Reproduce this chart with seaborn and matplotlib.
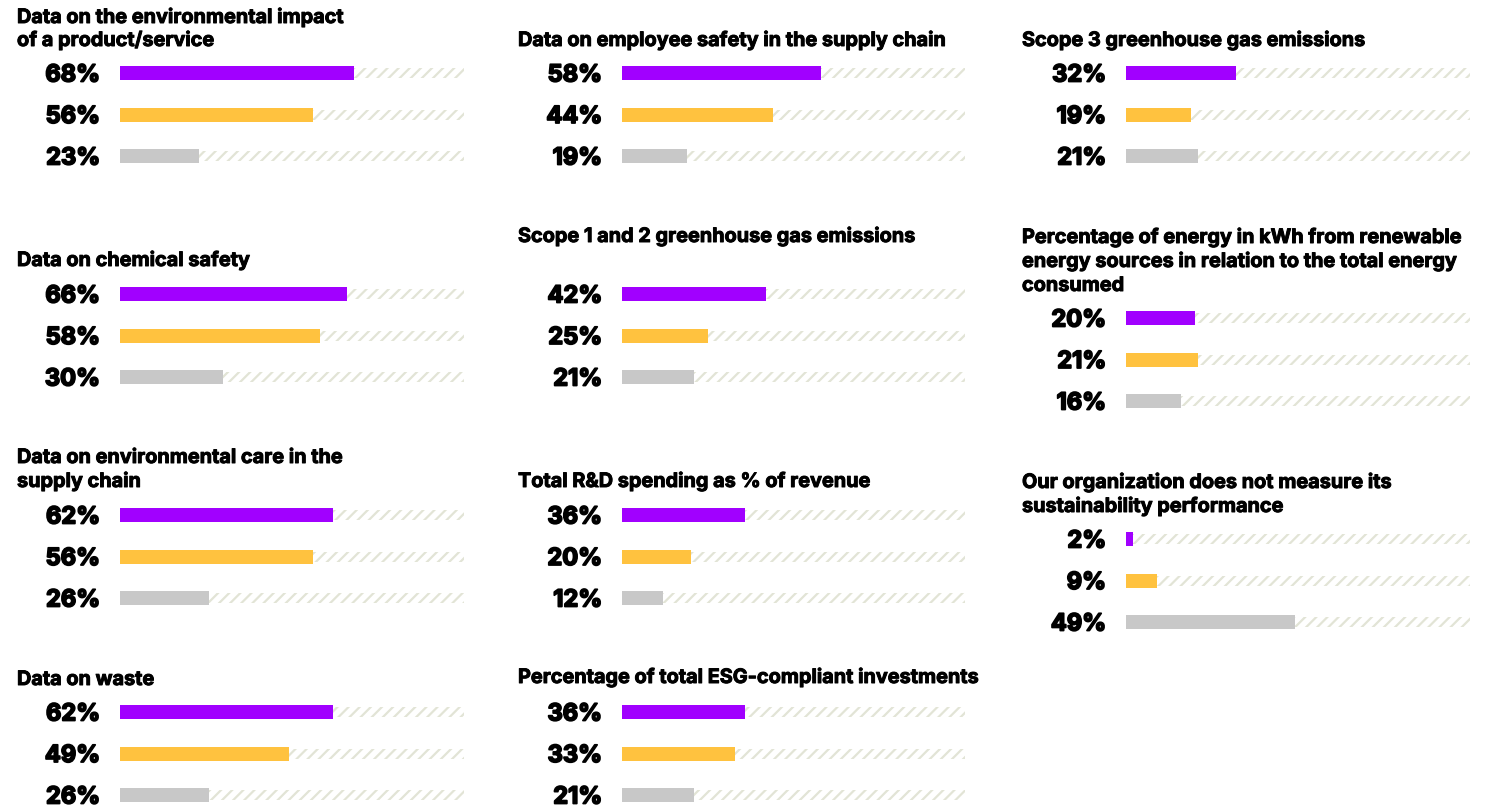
import matplotlib
matplotlib.use("Agg")
import matplotlib.pyplot as plt
import matplotlib.patheffects as pe
import seaborn as sns
import pandas as pd

sns.set_theme(style="white")
plt.rcParams['font.family'] = ['Inter', 'DejaVu Sans']
plt.rcParams['hatch.linewidth'] = 1.6

W, H = 1497, 808

# ---- data ----
groups = ["A", "B", "C"]
colors = ["#A100FF", "#FFC23F", "#C8C8C8"]

titles_c1 = [
    ["Data on the environmental impact", "of a product/service"],
    ["Data on chemical safety"],
    ["Data on environmental care in the", "supply chain"],
    ["Data on waste"],
]
values_c1 = [[68, 56, 23], [66, 58, 30], [62, 56, 26], [62, 49, 26]]

titles_c2 = [
    ["Data on employee safety in the supply chain"],
    ["Scope 1 and 2 greenhouse gas emissions"],
    ["Total R&D spending as % of revenue"],
    ["Percentage of total ESG-compliant investments"],
]
values_c2 = [[58, 44, 19], [42, 25, 21], [36, 20, 12], [36, 33, 21]]

titles_c3 = [
    ["Scope 3 greenhouse gas emissions"],
    ["Percentage of energy in kWh from renewable",
     "energy sources in relation to the total energy", "consumed"],
    ["Our organization does not measure its", "sustainability performance"],
]
values_c3 = [[32, 19, 21], [20, 21, 16], [2, 9, 49]]

# ---- layout (pixels) ----
columns = [
    dict(titles=titles_c1, values=values_c1, title_x=17, label_x=100, x0=120, x1=464,
         title_base=[[23, 46], [266], [463, 487], [685]],
         first_bar=[73, 294, 515, 712]),
    dict(titles=titles_c2, values=values_c2, title_x=518, label_x=602, x0=622, x1=965,
         title_base=[[46], [242], [487], [683]],
         first_bar=[73, 294, 515, 712]),
    dict(titles=titles_c3, values=values_c3, title_x=1022, label_x=1106, x0=1126, x1=1470,
         title_base=[[46], [243, 267, 291], [488, 512]],
         first_bar=[73, 318, 539]),
]
SP = 41.5  # row spacing in px

fig = plt.figure(figsize=(W / 100, H / 100), dpi=100)
fig.patch.set_facecolor("white")

num_fx = [pe.withStroke(linewidth=1.3, foreground="black")]
ttl_fx = [pe.withStroke(linewidth=0.7, foreground="black")]

for col in columns:
    for i, vals in enumerate(col["values"]):
        yc = col["first_bar"][i]
        top = yc - SP / 2
        ax = fig.add_axes([col["x0"] / W, 1 - (top + 3 * SP) / H,
                           (col["x1"] - col["x0"]) / W, 3 * SP / H])
        df = pd.DataFrame({"g": groups, "v": vals, "full": [100] * 3})
        # hatched tracks
        sns.barplot(data=df, x="full", y="g", orient="h", color="white",
                    width=10 / SP, hatch="///", edgecolor="#E2E4D6",
                    linewidth=0, saturation=1, ax=ax)
        # value bars
        sns.barplot(data=df, x="v", y="g", hue="g", palette=colors, orient="h",
                    width=14 / SP, linewidth=0, legend=False, saturation=1, ax=ax)
        ax.set_xlim(0, 100)
        ax.set_ylim(2.5, -0.5)
        ax.axis("off")
        for j, v in enumerate(vals):
            fig.text(col["label_x"] / W, 1 - (yc + j * SP + 8.5) / H, f"{v}%",
                     ha="right", va="baseline", fontsize=17, fontweight="bold",
                     color="#000000", path_effects=num_fx)
        for line, yb in zip(col["titles"][i], col["title_base"][i]):
            fig.text(col["title_x"] / W, 1 - yb / H, line, ha="left",
                     va="baseline", fontsize=14.3, fontweight="bold",
                     color="#000000", path_effects=ttl_fx)

fig.savefig("out.png", dpi=100, facecolor="white")
